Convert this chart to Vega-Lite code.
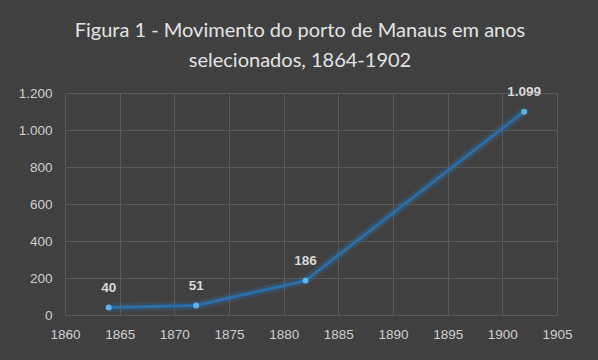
{
  "$schema": "https://vega.github.io/schema/vega-lite/v6.json",
  "width": 492,
  "height": 222,
  "autosize": {"type": "none"},
  "padding": {"left": 65, "top": 93, "right": 41, "bottom": 45},
  "background": "#404040",
  "config": {
    "view": {"stroke": null},
    "locale": {"number": {"decimal": ",", "thousands": ".", "grouping": [3], "currency": ["R$", ""]}},
    "axis": {
      "domain": false, "ticks": false, "gridColor": "#5a5a5a", "gridWidth": 1, "labelFlush": false,
      "labelColor": "#cfcfcf", "labelFont": "Liberation Sans", "labelFontSize": 13.5, "title": null
    }
  },
  "title": {
    "text": ["Figura 1 - Movimento do porto de Manaus em anos", "selecionados, 1864-1902"],
    "color": "#e3e3e3", "font": "Lato", "fontSize": 20, "fontWeight": "normal",
    "lineHeight": 30, "anchor": "middle", "dx": -11, "offset": 14
  },
  "data": {"values": [
    {"ano": 1864, "valor": 40},
    {"ano": 1872, "valor": 51},
    {"ano": 1882, "valor": 186},
    {"ano": 1902, "valor": 1099}
  ]},
  "encoding": {
    "x": {"field": "ano", "type": "quantitative",
      "scale": {"domain": [1860, 1905], "nice": false, "zero": false},
      "axis": {"values": [1860,1865,1870,1875,1880,1885,1890,1895,1900,1905], "format": "d", "labelPadding": 12}},
    "y": {"field": "valor", "type": "quantitative",
      "scale": {"domain": [0, 1200], "nice": false},
      "axis": {"values": [0,200,400,600,800,1000,1200], "format": ",d", "labelPadding": 13}}
  },
  "layer": [
    {"mark": {"type": "line", "stroke": "#2a6fa8", "strokeWidth": 9, "opacity": 0.25}},
    {"mark": {"type": "line", "stroke": "#2a6fa8", "strokeWidth": 3}},
    {"mark": {"type": "circle", "fill": "#5ab4ee", "size": 36, "opacity": 1}},
    {"mark": {"type": "text", "dy": -20, "color": "#d9d9d9", "font": "Liberation Sans", "fontSize": 13.5, "fontWeight": "bold"},
      "encoding": {"text": {"field": "valor", "type": "quantitative", "format": ",d"}}}
  ]
}
